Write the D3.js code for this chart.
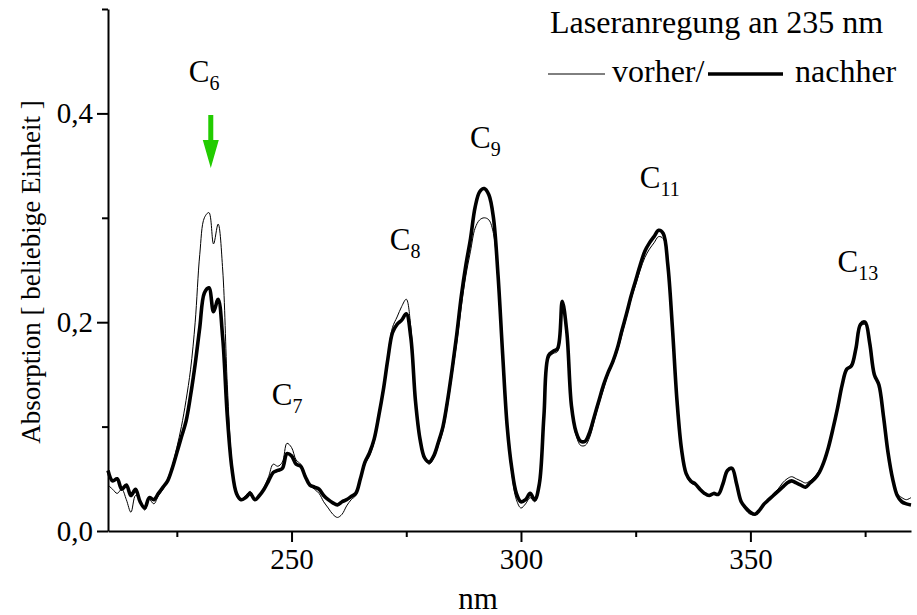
<!DOCTYPE html>
<html>
<head>
<meta charset="utf-8">
<script src="https://cdn.jsdelivr.net/npm/d3@7"></script>
<style>
  body { margin: 0; background: #fff; }
  svg text { font-family: "Liberation Serif", "Tinos", "Times New Roman", Times, "Nimbus Roman", "DejaVu Serif", serif; }
</style>
</head>
<body>
<svg id="chart" width="917" height="615"></svg>
<script>
// wavelength in nm, 1 nm steps
var wavelength = [
  210,211,212,213,214,215,216,217,218,219,220,221,222,223,224,225,226,227,228,229,
  230,231,232,233,234,235,236,237,238,239,240,241,242,243,244,245,246,247,248,249,
  250,251,252,253,254,255,256,257,258,259,260,261,262,263,264,265,266,267,268,269,
  270,271,272,273,274,275,276,277,278,279,280,281,282,283,284,285,286,287,288,289,
  290,291,292,293,294,295,296,297,298,299,300,301,302,303,304,305,306,307,308,309,
  310,311,312,313,314,315,316,317,318,319,320,321,322,323,324,325,326,327,328,329,
  330,331,332,333,334,335,336,337,338,339,340,341,342,343,344,345,346,347,348,349,
  350,351,352,353,354,355,356,357,358,359,360,361,362,363,364,365,366,367,368,369,
  370,371,372,373,374,375,376,377,378,379,380,381,382,383,384,385
];

// before laser excitation (thin line)
var vorher = [
  0.044,0.040,0.036,0.040,0.030,0.018,0.034,0.030,0.020,0.030,0.026,0.034,0.040,0.050,0.062,0.080,0.100,0.125,0.155,0.200,
  0.265,0.300,0.305,0.275,0.294,0.250,0.140,0.065,0.036,0.030,0.034,0.038,0.030,0.034,0.042,0.052,0.064,0.062,0.066,0.084,
  0.080,0.068,0.064,0.054,0.044,0.040,0.036,0.028,0.022,0.016,0.013,0.016,0.024,0.030,0.034,0.048,0.064,0.072,0.085,0.108,
  0.135,0.168,0.195,0.205,0.215,0.222,0.195,0.128,0.090,0.070,0.064,0.070,0.082,0.096,0.120,0.150,0.180,0.215,0.245,0.268,
  0.290,0.298,0.300,0.298,0.285,0.240,0.168,0.098,0.055,0.030,0.022,0.026,0.032,0.028,0.042,0.108,0.165,0.170,0.172,0.218,
  0.188,0.118,0.092,0.082,0.082,0.090,0.106,0.122,0.136,0.150,0.160,0.172,0.188,0.205,0.222,0.236,0.250,0.262,0.270,0.276,
  0.282,0.280,0.252,0.195,0.125,0.076,0.054,0.046,0.044,0.040,0.036,0.034,0.036,0.034,0.044,0.058,0.060,0.045,0.028,0.020,
  0.016,0.016,0.020,0.026,0.030,0.036,0.040,0.046,0.050,0.052,0.050,0.048,0.046,0.048,0.052,0.058,0.066,0.080,0.096,0.116,
  0.138,0.155,0.160,0.175,0.196,0.198,0.180,0.150,0.138,0.108,0.072,0.050,0.036,0.032,0.030,0.032
];

// after laser excitation (thick line)
var nachher = [
  0.058,0.048,0.050,0.040,0.044,0.034,0.040,0.028,0.022,0.032,0.030,0.036,0.042,0.048,0.060,0.075,0.090,0.105,0.130,0.160,
  0.195,0.228,0.233,0.210,0.222,0.185,0.110,0.060,0.036,0.030,0.032,0.036,0.030,0.034,0.040,0.048,0.056,0.058,0.060,0.074,
  0.072,0.064,0.062,0.052,0.044,0.042,0.040,0.034,0.030,0.027,0.025,0.028,0.030,0.033,0.036,0.050,0.066,0.075,0.088,0.110,
  0.135,0.165,0.190,0.198,0.202,0.208,0.185,0.125,0.088,0.070,0.066,0.072,0.085,0.100,0.125,0.155,0.188,0.225,0.255,0.280,
  0.310,0.325,0.328,0.322,0.300,0.245,0.170,0.100,0.060,0.036,0.028,0.030,0.036,0.030,0.045,0.110,0.168,0.172,0.175,0.220,
  0.190,0.120,0.095,0.086,0.086,0.095,0.110,0.125,0.140,0.152,0.162,0.175,0.192,0.208,0.225,0.240,0.255,0.268,0.276,0.282,
  0.288,0.285,0.255,0.195,0.125,0.078,0.055,0.048,0.045,0.040,0.036,0.034,0.036,0.035,0.045,0.058,0.060,0.045,0.028,0.022,
  0.018,0.016,0.020,0.026,0.030,0.034,0.038,0.042,0.046,0.048,0.046,0.044,0.042,0.046,0.050,0.056,0.066,0.080,0.098,0.118,
  0.140,0.155,0.158,0.175,0.198,0.200,0.180,0.150,0.140,0.110,0.075,0.050,0.034,0.028,0.026,0.025
];

var xMajor = [250, 300, 350];
var xMinor = [225, 275, 325, 375];
var yMajor = [0, 0.2, 0.4];
var yMinor = [0.1, 0.3, 0.5];

// carbon chain labels: subscript, anchor nm, anchor absorbance
var chainNames = ["6", "7", "8", "9", "11", "13"];
var chainNm = [227.6, 245.7, 271.4, 288.9, 325.9, 369.0];
var chainAbs = [0.43, 0.121, 0.269, 0.367, 0.329, 0.248];

var serif = "'Liberation Serif', 'Tinos', 'Times New Roman', Times, 'Nimbus Roman', 'DejaVu Serif', serif";

var svg = d3.select("#chart");

var x = d3.scaleLinear().domain([210, 385]).range([108, 911]);
var y = d3.scaleLinear().domain([0, 0.5]).range([531, 9]);

var fmt = function(d) { return d.toFixed(1).replace(".", ","); };

// x axis
var gx = svg.append("g").attr("transform", "translate(0,531)");
gx.call(d3.axisBottom(x).tickValues(xMajor).tickSize(11).tickSizeOuter(0).tickPadding(6));
gx.append("g").call(d3.axisBottom(x).tickValues(xMinor).tickSize(6).tickFormat("")).select(".domain").remove();
gx.selectAll("path, line").attr("stroke", "#000").attr("stroke-width", 2);
gx.attr("font-family", serif);
gx.selectAll("text").attr("font-size", 29).attr("fill", "#000");

// y axis
var gy = svg.append("g").attr("transform", "translate(108,0)");
gy.call(d3.axisLeft(y).tickValues(yMajor).tickSize(11).tickSizeOuter(0).tickPadding(4).tickFormat(fmt));
gy.append("g").call(d3.axisLeft(y).tickValues(yMinor).tickSize(6).tickFormat("")).select(".domain").remove();
gy.selectAll("path, line").attr("stroke", "#000").attr("stroke-width", 2);
gy.attr("font-family", serif);
gy.selectAll("text").attr("font-size", 29).attr("fill", "#000");

// axis titles
svg.append("text")
  .attr("x", 478).attr("y", 609)
  .attr("text-anchor", "middle")
  .attr("font-size", 31)
  .text("nm");

svg.append("text")
  .attr("transform", "translate(40,272) rotate(-90)")
  .attr("text-anchor", "middle")
  .attr("font-size", 27)
  .text("Absorption  [ beliebige Einheit ]");

// spectra
var line = function(vals) {
  return d3.line()
    .x(function(d, i) { return x(wavelength[i]); })
    .y(function(d) { return y(d); })
    .curve(d3.curveCatmullRom.alpha(0.5))(vals);
};

svg.append("path")
  .attr("d", line(vorher))
  .attr("fill", "none")
  .attr("stroke", "#000")
  .attr("stroke-width", 1);

svg.append("path")
  .attr("d", line(nachher))
  .attr("fill", "none")
  .attr("stroke", "#000")
  .attr("stroke-width", 3.6)
  .attr("stroke-linejoin", "round");

// chain labels
chainNames.forEach(function(n, i) {
  var t = svg.append("text")
    .attr("x", x(chainNm[i]))
    .attr("y", y(chainAbs[i]))
    .attr("font-size", 31);
  t.append("tspan").text("C");
  t.append("tspan").attr("font-size", 20).attr("dy", 8).text(n);
});

// green arrow over C6
var ax = x(232.4);
svg.append("path")
  .attr("d", "M" + (ax - 2.5) + ",115 L" + (ax + 2.5) + ",115 L" + (ax + 2.5) + ",140 L" + (ax + 8) + ",140 L" + ax + ",168 L" + (ax - 8) + ",140 L" + (ax - 2.5) + ",140 Z")
  .attr("fill", "#22cc00");

// legend
svg.append("text")
  .attr("x", 550).attr("y", 33)
  .attr("font-size", 32)
  .text("Laseranregung an 235 nm");

svg.append("line")
  .attr("x1", 548).attr("x2", 605).attr("y1", 74).attr("y2", 74)
  .attr("stroke", "#000").attr("stroke-width", 1);
svg.append("text")
  .attr("x", 612).attr("y", 82)
  .attr("font-size", 32)
  .text("vorher/");
svg.append("line")
  .attr("x1", 708).attr("x2", 783).attr("y1", 74).attr("y2", 74)
  .attr("stroke", "#000").attr("stroke-width", 3.6);
svg.append("text")
  .attr("x", 795).attr("y", 82)
  .attr("font-size", 32)
  .text("nachher");
</script>
</body>
</html>
